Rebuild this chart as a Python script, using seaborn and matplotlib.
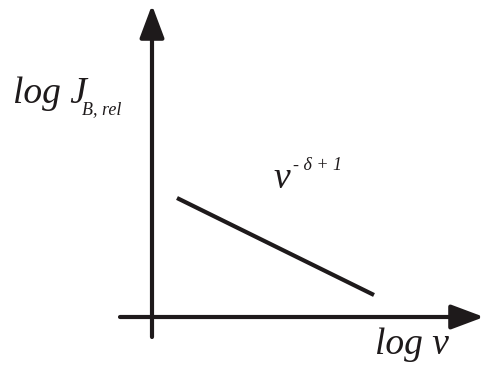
import matplotlib
matplotlib.use("Agg")
import matplotlib.pyplot as plt
import seaborn as sns
import pandas as pd

# schematic data (arbitrary log units, origin at axes crossing)
log_nu = [25, 222]
log_J = [119, 22]
x_label = "log ν"
y_label = "log J"
y_sub = "B, rel"
slope_base = "ν"
slope_exp = "- δ + 1"

sns.set_theme(style="white")
plt.rcParams['font.family'] = ['Liberation Serif', 'DejaVu Serif']

INK = '#1e1a1b'
fig = plt.figure(figsize=(4.84, 3.67), dpi=100)
ax = fig.add_axes([0, 0, 1, 1])
ax.set_xlim(-152, 332)
ax.set_ylim(-50, 317)
ax.axis('off')

df = pd.DataFrame({'x': log_nu, 'y': log_J})
sns.lineplot(data=df, x='x', y='y', ax=ax, color=INK, lw=3, solid_capstyle='butt')

arrow = dict(arrowstyle='-|>,head_length=20,head_width=7.5', mutation_scale=1,
             lw=3, color=INK, shrinkA=0, shrinkB=0)
ax.annotate('', xy=(332, 0), xytext=(-32, 0), arrowprops=arrow)
ax.annotate('', xy=(0, 312), xytext=(0, -20), arrowprops=arrow)

kw = dict(color=INK, style='italic', va='baseline', ha='left')
ax.text(-139, 214, y_label, fontsize=27, **kw)
ax.text(-70, 203, y_sub, fontsize=13, **kw)
ax.text(121, 129, slope_base, fontsize=27, **kw)
ax.text(141, 147, slope_exp, fontsize=13, **kw)
ax.text(223, -37, x_label, fontsize=27, **kw)

fig.savefig('out.png', dpi=100)
